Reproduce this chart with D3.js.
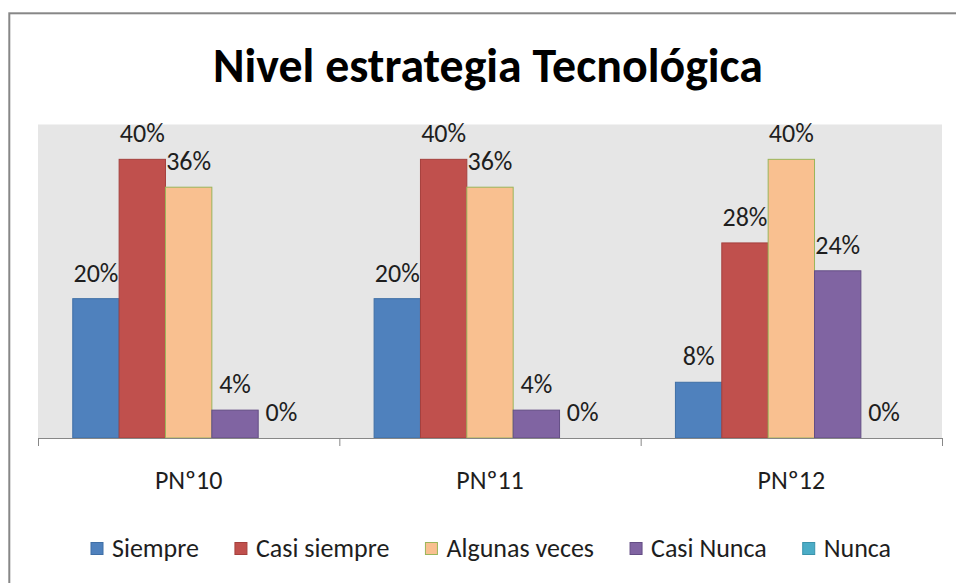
<!DOCTYPE html>
<html>
<head>
<meta charset="utf-8">
<script src="https://cdn.jsdelivr.net/npm/d3@7"></script>
<style>
  body { margin: 0; background: #fff; }
  svg text { font-family: Carlito, Lato, "Open Sans", sans-serif; fill: #1e1e1e; }
</style>
</head>
<body>
<svg id="chart" width="956" height="583"></svg>
<script>
// data
const categories = ['PNº10', 'PNº11', 'PNº12'];
const seriesNames = ['Siempre', 'Casi siempre', 'Algunas veces', 'Casi Nunca', 'Nunca'];
const siempre = [20, 20, 8];
const casiSiempre = [40, 40, 28];
const algunasVeces = [36, 36, 40];
const casiNunca = [4, 4, 24];
const nunca = [0, 0, 0];
const seriesValues = [siempre, casiSiempre, algunasVeces, casiNunca, nunca];
const fills = ['#4f81bd', '#c0504d', '#f9c090', '#8064a2', '#4bacc6'];
const strokes = ['#3f6fa6', '#a5403d', '#9bb55a', '#644e85', '#3a93ab'];

const svg = d3.select('#chart');

// outer frame
svg.append('rect')
  .attr('x', 9.3).attr('y', 13.3)
  .attr('width', 1000).attr('height', 700)
  .attr('fill', 'none')
  .attr('stroke', '#878787')
  .attr('stroke-width', 2);

// title
let title = svg.append('text')
  .attr('x', 488).attr('y', 82)
  .attr('text-anchor', 'middle')
  .style('font-weight', 'bold')
  .style('font-size', '40px')
  .style('fill', '#000')
  .text('Nivel estrategia Tecnológica');
// squeeze it to the width it has in the picture
let tw = title.node().getComputedTextLength();
title.style('font-size', (40 * 550 / tw) + 'px');

const plot = { left: 38, right: 942, top: 124.5, bottom: 438 };

svg.append('rect')
  .attr('x', plot.left).attr('y', plot.top)
  .attr('width', plot.right - plot.left)
  .attr('height', plot.bottom - plot.top)
  .attr('fill', '#e6e6e6');

let x0 = d3.scaleBand()
  .domain(categories)
  .range([plot.left, plot.right]);

let x1 = d3.scaleBand()
  .domain(seriesNames)
  .range([0, x0.bandwidth()])
  .paddingInner(0)
  .paddingOuter(0.75);

let y = d3.scaleLinear()
  .domain([0, 45])
  .range([plot.bottom, plot.top]);

let rows = [];
categories.forEach((c, i) => {
  seriesNames.forEach((s, j) => {
    rows.push({ cat: c, name: s, j: j, v: seriesValues[j][i] });
  });
});

svg.append('g').attr('id', 'bars').selectAll('rect')
  .data(rows.filter(d => d.v > 0))
  .join('rect')
  .attr('x', d => x0(d.cat) + x1(d.name))
  .attr('y', d => y(d.v))
  .attr('width', x1.bandwidth())
  .attr('height', d => y(0) - y(d.v))
  .attr('fill', d => fills[d.j])
  .attr('stroke', d => strokes[d.j])
  .attr('stroke-width', 1);

svg.append('g').attr('id', 'labels').selectAll('text')
  .data(rows)
  .join('text')
  .attr('x', d => x0(d.cat) + x1(d.name) + x1.bandwidth() / 2)
  .attr('y', d => y(d.v) - 17)
  .attr('text-anchor', 'middle')
  .style('font-size', '26px')
  .text(d => d.v + '%');

// category axis: ticks on the band edges
let edge = d3.scaleLinear().domain([0, categories.length]).range([plot.left, plot.right]);
let xAxis = d3.axisBottom(edge)
  .tickValues(d3.range(categories.length + 1))
  .tickFormat('')
  .tickSize(8)
  .tickSizeOuter(0);
let axisG = svg.append('g').attr('transform', `translate(0, ${plot.bottom})`).call(xAxis);
axisG.selectAll('path, line').attr('stroke', '#878787');

svg.append('g').attr('id', 'cat-labels').selectAll('text')
  .data(categories)
  .join('text')
  .attr('x', d => x0(d) + x0.bandwidth() / 2)
  .attr('y', 489)
  .attr('text-anchor', 'middle')
  .style('font-size', '26px')
  .text(d => d);

// legend
let legend = svg.append('g').attr('id', 'legend');
let lx = 91;
seriesNames.forEach((s, j) => {
  legend.append('rect')
    .attr('x', lx).attr('y', 542.5)
    .attr('width', 12).attr('height', 12)
    .attr('fill', fills[j])
    .attr('stroke', strokes[j]);
  let t = legend.append('text')
    .attr('x', lx + 21).attr('y', 557)
    .style('font-size', '26px')
    .text(s);
  lx += 21 + t.node().getComputedTextLength() + 36;
});
</script>
</body>
</html>
